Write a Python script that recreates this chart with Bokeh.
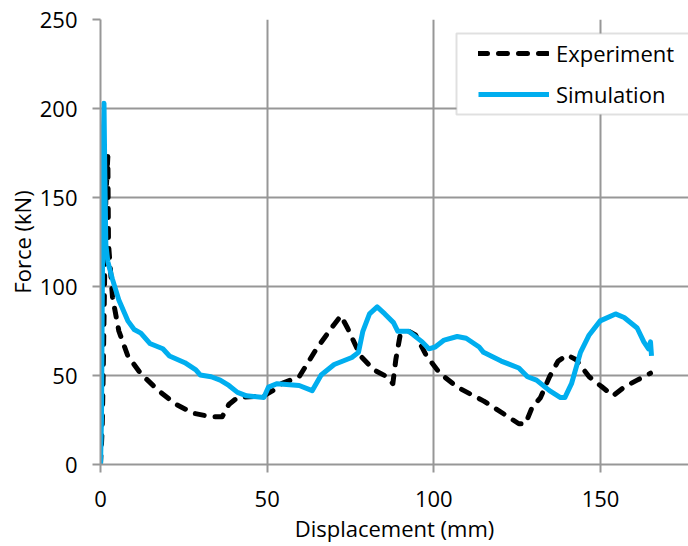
from bokeh.plotting import figure
from bokeh.models import Range1d, FixedTicker, Legend, LegendItem, BoxAnnotation
from bokeh.embed import file_html
from bokeh.resources import INLINE

# Experiment (dashed black)
exp_x = [0, 0.5, 0.8, 1.2, 1.6, 2.2, 2.4, 3.6, 5.5, 8.2, 12.1, 17.4, 22.7, 27.9, 33.2, 36.5,
         38.5, 41.1, 49.0, 51.7, 54.3, 59.6, 64.8, 70.1, 72.1, 74.1, 78.0, 82.0, 85.9, 87.7,
         88.6, 89.9, 92.5, 94.5, 97.8, 101.8, 107.0, 115.0, 121.5, 125.5, 127.5, 129.4, 132.0,
         134.7, 137.3, 140.0, 142.6, 146.6, 150.5, 153.8, 157.1, 161.0, 165.0]
exp_y = [0, 20, 50, 100, 150, 173, 124, 94, 75, 61, 51, 41.5, 33.7, 28.8, 26.8, 26.8,
         33.7, 37.6, 38.6, 41.5, 45.4, 49.3, 65, 78.7, 83.6, 76.7, 61, 53.2, 49.3, 45.4,
         59, 72.8, 74.8, 72.8, 61, 51.3, 43.5, 35.6, 27.8, 22.9, 22.9, 31.7, 37.6,
         49.3, 58.1, 61.5, 59, 49.3, 43.5, 38.6, 43.5, 47.4, 51.3]

# Simulation (solid blue)
sim_x = [0, 0.3, 0.5, 0.9, 1.05, 1.3, 1.6, 2.2, 3.6, 5.5, 8.2, 10.1, 12.1, 14.8, 18.7, 20.7,
         25.3, 28.6, 29.9, 33.2, 35.9, 38.5, 41.1, 43.8, 49.0, 50.4, 53.0, 59.6, 63.5, 66.2,
         70.1, 75.4, 77.4, 78.7, 80.7, 83.0, 85.3, 87.9, 89.2, 92.5, 96.5, 98.5, 100.4, 103.1,
         107.0, 109.7, 113.6, 114.9, 120.2, 125.5, 128.1, 130.8, 134.7, 138.0, 139.3, 141.3,
         144.0, 146.6, 149.9, 154.5, 157.1, 161.0, 163.0, 164.4, 165.0, 165.3]
sim_y = [0, 25.8, 84.6, 190, 203, 163, 123.7, 114, 104, 92.4, 80.7, 75.8, 73.8, 68, 65, 61,
         57.2, 53.2, 50.3, 49.3, 47.4, 44.4, 40.5, 38.6, 37.6, 43.5, 45.4, 44.4, 41.5, 50.3,
         56.2, 60.1, 63, 74.8, 84.6, 88.5, 84.6, 79.7, 74.8, 74.8, 68.9, 65, 66, 69.9,
         71.9, 70.9, 66, 63, 58.1, 54.2, 49.3, 47.4, 41.5, 37.6, 37.6, 45.4,
         63, 72.8, 80.7, 84.6, 82.6, 76.7, 68.9, 65, 68.9, 61]

x_ticks = [0, 50, 100, 150]
y_ticks = [0, 50, 100, 150, 200, 250]

FONT = "Open Sans"
FS = "22px"
GRID = "#979797"

p = figure(width=688, height=546, x_range=Range1d(0, 176.4), y_range=Range1d(0, 250),
           output_backend="svg", toolbar_location=None,
           min_border_left=100, min_border_right=0, min_border_top=19, min_border_bottom=82)
p.outline_line_color = None
p.background_fill_color = "white"
p.border_fill_color = "white"

for ax, ticks in ((p.xaxis[0], x_ticks), (p.yaxis[0], y_ticks)):
    ax.ticker = FixedTicker(ticks=ticks)
    ax.axis_line_color = GRID
    ax.axis_line_width = 2
    ax.major_tick_line_color = GRID
    ax.major_tick_line_width = 2
    ax.major_tick_out = 8
    ax.major_tick_in = 0
    ax.minor_tick_line_color = None
    ax.major_label_text_font = FONT
    ax.major_label_text_font_size = FS
    ax.major_label_text_color = "black"
    ax.axis_label_text_font = FONT
    ax.axis_label_text_font_size = FS
    ax.axis_label_text_font_style = "normal"
    ax.axis_label_text_color = "black"

p.xaxis.axis_label = "Displacement (mm)"
p.yaxis.axis_label = "Force (kN)"
p.xaxis.major_label_standoff = 18
p.xaxis.axis_label_standoff = 3
p.yaxis.major_label_standoff = 15
p.yaxis.axis_label_standoff = 0

p.xgrid.ticker = FixedTicker(ticks=x_ticks)
p.ygrid.ticker = FixedTicker(ticks=y_ticks)
for g in (p.xgrid[0], p.ygrid[0]):
    g.grid_line_color = GRID
    g.grid_line_width = 2

r_exp = p.line(exp_x, exp_y, line_color="black", line_width=5, line_dash="9 11",
               line_cap="round", line_join="round")
r_sim = p.line(sim_x, sim_y, line_color="#00AEEF", line_width=5, line_join="round")

box = BoxAnnotation(left=106.8, right=200, top=242.1, bottom=196.6,
                    fill_color="white", fill_alpha=1, line_color=GRID, line_width=2)
p.add_layout(box)

legend = Legend(items=[LegendItem(label="Experiment", renderers=[r_exp]),
                       LegendItem(label="Simulation", renderers=[r_sim])],
                location=(378, 355), padding=0, margin=0, spacing=11,
                glyph_width=71, glyph_height=30, label_height=30, label_standoff=7,
                border_line_color=None, background_fill_alpha=0,
                label_text_font=FONT, label_text_font_size=FS, label_text_color="black")
p.add_layout(legend)

open("out.html", "w").write(file_html(p, INLINE))
